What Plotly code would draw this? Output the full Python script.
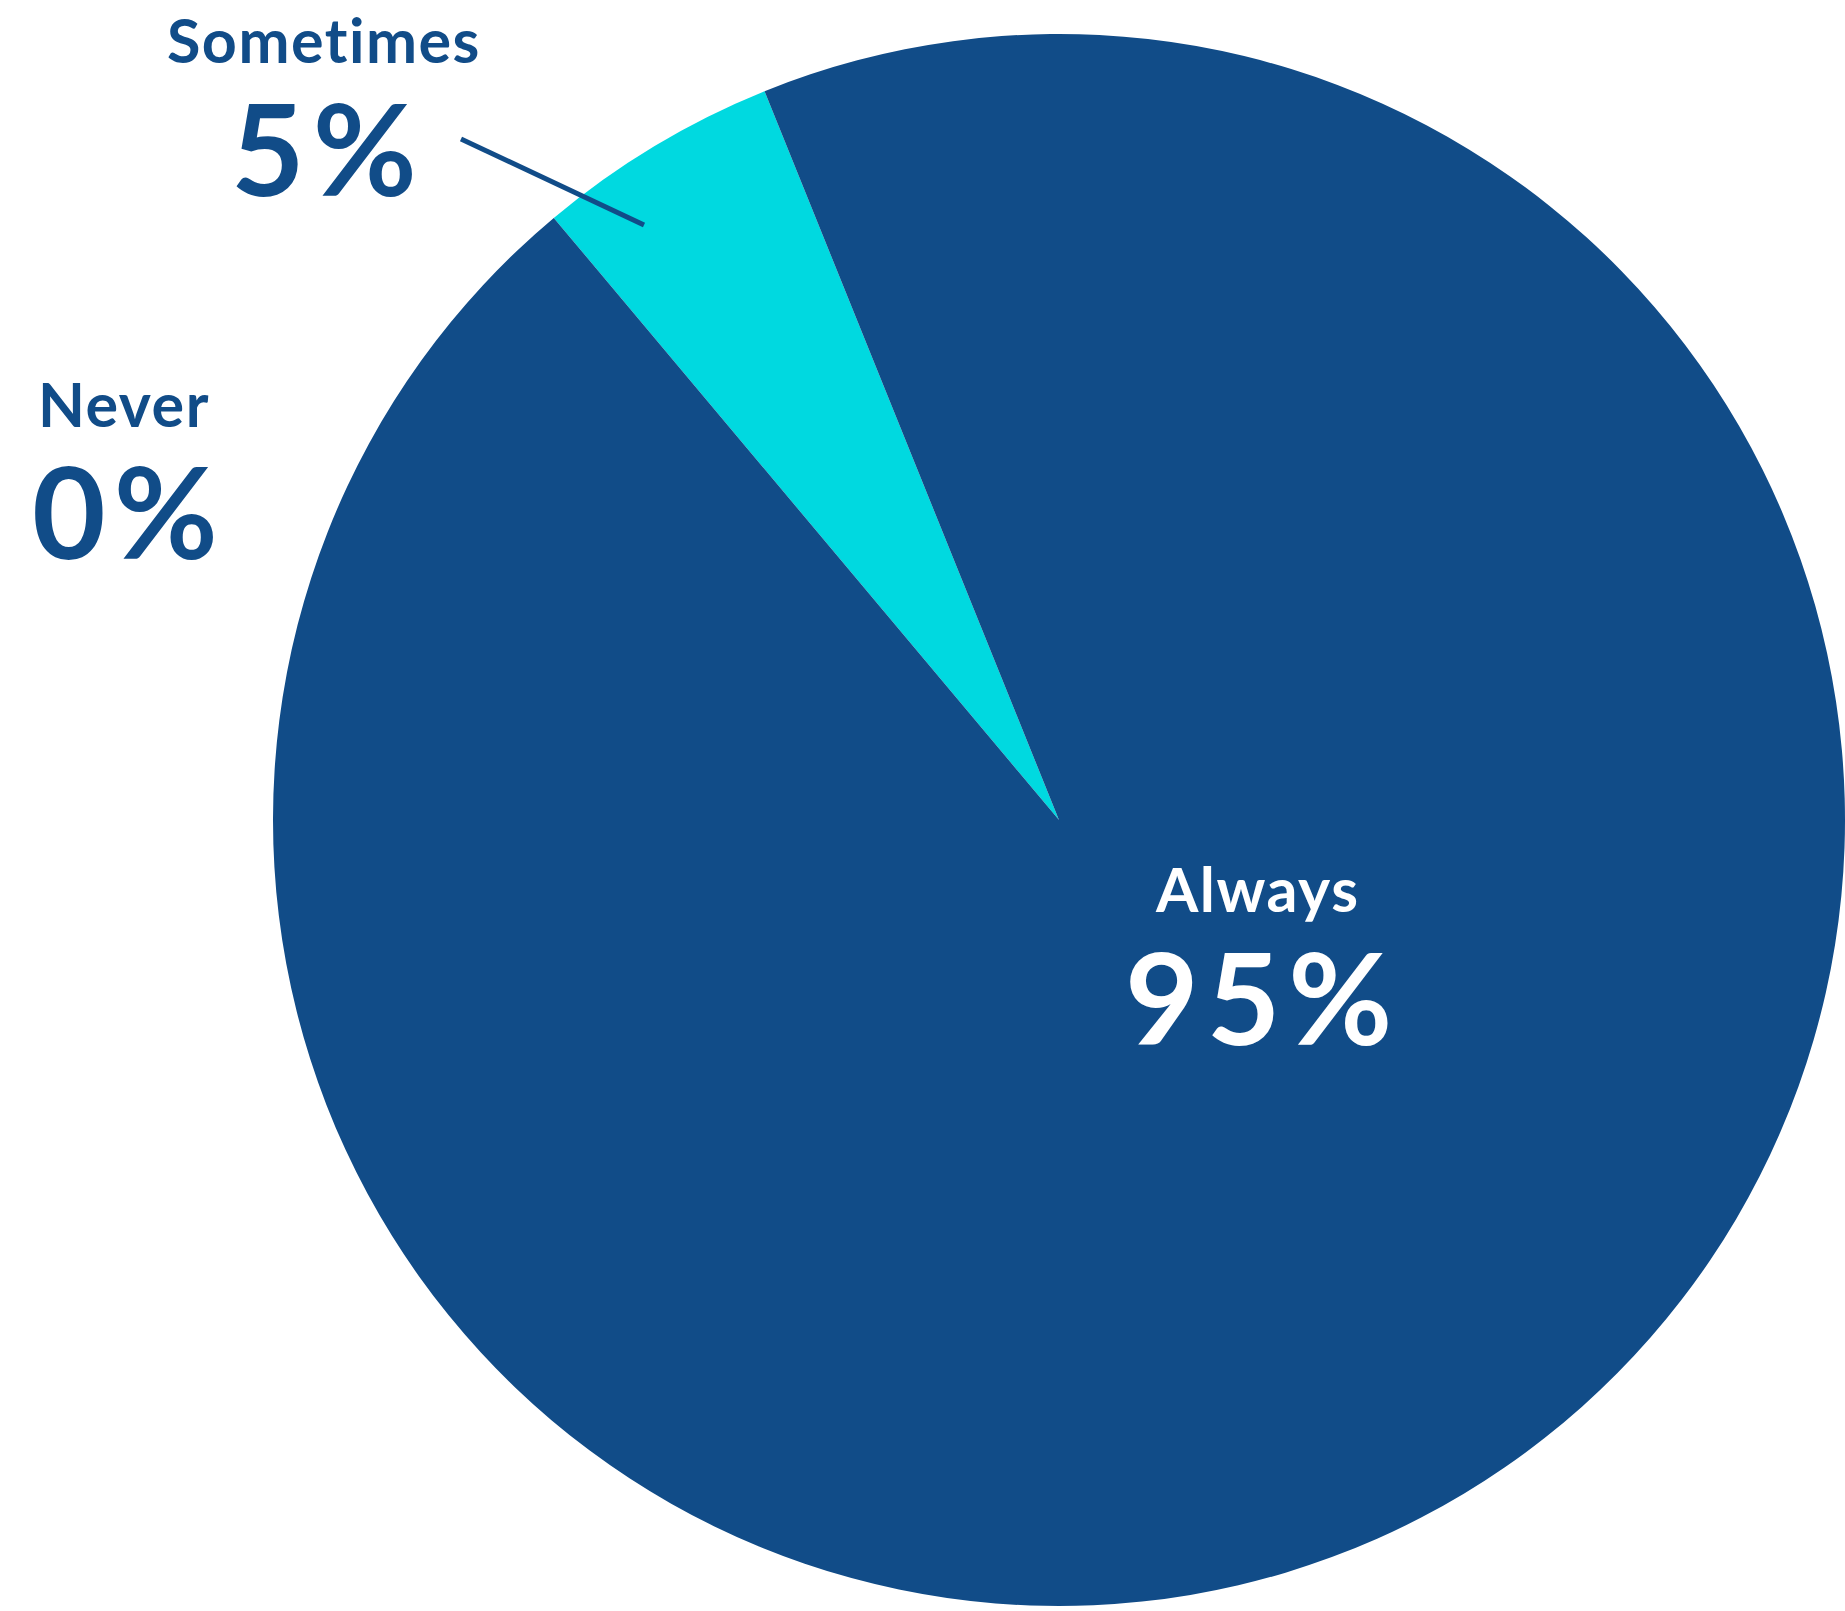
import plotly.graph_objects as go

# Survey answers and their shares (percent)
categories = ["Sometimes", "Always", "Never"]
shares = [5, 95, 0]
share_labels = ["5%", "95%", "0%"]

DARK_BLUE = "#114C88"
CYAN = "#00D9E0"
WIDTH, HEIGHT = 1845, 1611
FONT = "Lato"


def paper(x_px, y_px):
    """Convert page pixels (from top-left) to paper coordinates."""
    return x_px / WIDTH, 1 - y_px / HEIGHT


def tracked(text, spacing):
    """Wrap text in a span with letter spacing and no ligatures."""
    return (f'<span style="letter-spacing:{spacing}px;'
            f'font-variant-ligatures:none">{text}</span>')


fig = go.Figure(
    go.Pie(
        labels=categories,
        values=shares,
        sort=False,
        direction="clockwise",
        rotation=-40,
        marker=dict(colors=[CYAN, DARK_BLUE, "#FFFFFF"], line=dict(width=0)),
        textinfo="none",
        hoverinfo="skip",
        showlegend=False,
        domain=dict(x=[273 / WIDTH, 1.0], y=[1 / HEIGHT, 1581 / HEIGHT]),
    )
)

# Label placement:
# (category centre x, category middle y, percent centre x, percent middle y, colour)
label_layout = {
    "Sometimes": (324, 39, 328, 147, DARK_BLUE),
    "Always": (1257, 888, 1262, 996, "#FFFFFF"),
    "Never": (124, 403, 129, 510, DARK_BLUE),
}

annotations = []
for name, pct in zip(categories, share_labels):
    cx, y_name, px_pct, y_pct, color = label_layout[name]
    x0, y0 = paper(cx, y_name)
    x1, y1 = paper(px_pct, y_pct)
    annotations.append(dict(
        text=tracked(name, 1.5), x=x0, y=y0, xref="paper", yref="paper",
        xanchor="center", yanchor="middle", showarrow=False,
        font=dict(family=FONT, size=61, color=color, weight=700),
    ))
    annotations.append(dict(
        text=tracked(pct, 8), x=x1, y=y1, xref="paper", yref="paper",
        xanchor="center", yanchor="middle", showarrow=False,
        font=dict(family=FONT, size=127, color=color, weight=700),
    ))

# Leader line from the "Sometimes" label into its slice
lx0, ly0 = paper(461, 139)
lx1, ly1 = paper(644, 225)

fig.update_layout(
    width=WIDTH,
    height=HEIGHT,
    margin=dict(l=0, r=0, t=0, b=0),
    paper_bgcolor="#FFFFFF",
    plot_bgcolor="#FFFFFF",
    annotations=annotations,
    shapes=[dict(
        type="line", xref="paper", yref="paper",
        x0=lx0, y0=ly0, x1=lx1, y1=ly1,
        line=dict(color=DARK_BLUE, width=5),
    )],
)

fig.write_html("out.html")
